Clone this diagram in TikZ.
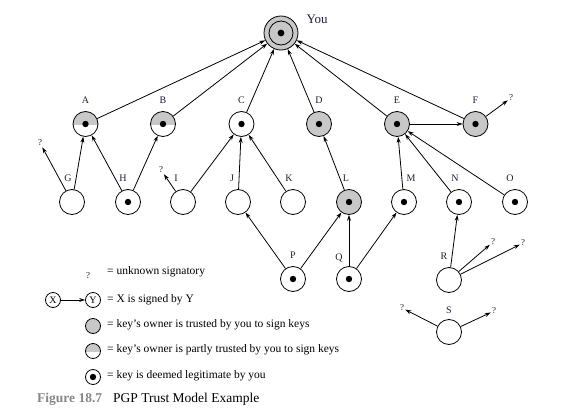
\documentclass[tikz,border=0pt]{standalone}
\usepackage{fontspec}
\setmainfont{Liberation Serif}
\usetikzlibrary{positioning,arrows.meta}
\definecolor{keygray}{RGB}{200,200,200}
\definecolor{capgray}{RGB}{135,135,135}
\definecolor{inkblue}{RGB}{30,30,60}

\begin{document}
\begin{tikzpicture}[
    x=1pt, y=-1pt,
    key/.style={draw, circle, line width=0.8pt, minimum size=25pt, inner sep=0pt},
    trusted/.style={key, fill=keygray},
    legit/.style={path picture={\fill[black] (path picture bounding box.center) circle (3.2pt);}},
    partly/.style={path picture={\fill[keygray] ([yshift=-1pt]path picture bounding box.west) rectangle (path picture bounding box.north east);}},
    partlylegit/.style={path picture={\fill[keygray] ([yshift=-1pt]path picture bounding box.west) rectangle (path picture bounding box.north east);
        \fill[black] (path picture bounding box.center) circle (3.2pt);}},
    you/.style={trusted, minimum size=34pt, path picture={\draw[line width=0.8pt] (path picture bounding box.center) circle (12pt);
        \fill[black] (path picture bounding box.center) circle (3.4pt);}},
    every label/.style={font=\fontsize{10}{12}\selectfont, text=inkblue},
    label distance=4pt,
    unknown/.style={inner sep=1pt, font=\fontsize{9}{10}\selectfont, text=inkblue},
    signs/.style={-{Stealth[length=6pt,width=4pt]}, line width=0.8pt},
    legend/.style={anchor=west, inner sep=0pt, font=\fontsize{11.5}{13}\selectfont},
    small/.style={minimum size=15pt}
]
\useasboundingbox (0,0) rectangle (563,415);

\node[you, label={[anchor=west, xshift=7pt, yshift=5pt, label distance=0pt, font=\fontsize{13}{15}\selectfont]30:You}] (You) at (281,33) {};

\node[key, partlylegit, label=above:A] (A) at (85.5,124) {};
\node[key, partlylegit, label=above:B] (B) at (163,124) {};
\node[key, legit, label=above:C] (C) at (241.5,124) {};
\node[trusted, legit, label=above:D] (D) at (319,124) {};
\node[trusted, legit, label=above:E] (E) at (397,124) {};
\node[trusted, legit, label=above:F] (F) at (475.5,124) {};

\node[key, label={[xshift=-4pt]above:G}] (G) at (72,202) {};
\node[key, legit, label={[xshift=-5pt]above:H}] (H) at (128,202) {};
\node[key, label={[xshift=-7pt]above:I}] (I) at (183,202) {};
\node[key, label={[xshift=-6pt]above:J}] (J) at (238,202) {};
\node[key, label={[xshift=-4pt]above:K}] (K) at (293,202) {};
\node[trusted, legit, label={[xshift=-3pt]above:L}] (L) at (349,202) {};
\node[key, legit, label={[xshift=7pt]above:M}] (M) at (404,202) {};
\node[key, legit, label={[xshift=-4pt]above:N}] (N) at (459,202) {};
\node[key, legit, label={[xshift=-5pt]above:O}] (O) at (515,202) {};

\node[key, legit, label=above:P] (P) at (293,279) {};
\node[key, legit, label={[xshift=-10pt, yshift=-4pt]above:Q}] (Q) at (349,279) {};
\node[key, label={[xshift=-5pt]above:R}] (R) at (449,280) {};
\node[key, label={[yshift=-2pt]above:S}] (S) at (449,332) {};

\node[unknown] (qG) at (40,143) {?};
\node[unknown] (qI) at (161,170) {?};
\node[unknown] (qF) at (511,98) {?};
\node[unknown] (qR1) at (493,242) {?};
\node[unknown] (qR2) at (523,243) {?};
\node[unknown] (qS1) at (402,308) {?};
\node[unknown] (qS2) at (494,311) {?};

\draw[signs] (A) -- (You);
\draw[signs] (B) -- (You);
\draw[signs] (C) -- (You);
\draw[signs] (D) -- (You);
\draw[signs] (E) -- (You);
\draw[signs] (F) -- (You);
\draw[signs] (E) -- (F);
\draw[signs] (F) -- (qF);
\draw[signs] (G) -- (qG);
\draw[signs] (G) -- (A);
\draw[signs] (H) -- (A);
\draw[signs] (H) -- (B);
\draw[signs] (I) -- (qI);
\draw[signs] (I) -- (C);
\draw[signs] (J) -- (C);
\draw[signs] (K) -- (C);
\draw[signs] (L) -- (D);
\draw[signs] (M) -- (E);
\draw[signs] (N) -- (E);
\draw[signs] (O) -- (E);
\draw[signs] (P) -- (J);
\draw[signs] (P) -- (L);
\draw[signs] (Q) -- (L);
\draw[signs] (Q) -- (M);
\draw[signs] (R) -- (N);
\draw[signs] (R) -- (qR1);
\draw[signs] (R) -- (qR2);
\draw[signs] (S) -- (qS1);
\draw[signs] (S) -- (qS2);

\node[unknown] (qKey) at (88,276) {?};
\node[legend] (tUnknown) at (107,272) {= unknown signatory};
\node[key, small, font=\fontsize{10}{12}\selectfont] (X) at (53,300) {X};
\node[key, small, font=\fontsize{10}{12}\selectfont] (Y) at (93,300) {Y};
\draw[signs] (X) -- (Y);
\node[legend] (tSigned) at (107,300) {= X is signed by Y};
\node[trusted, small] (kTrusted) at (93,326) {};
\node[legend] (tTrusted) at (107,325) {= key's owner is trusted by you to sign keys};
\node[key, small, partly] (kPartly) at (93,351) {};
\node[legend] (tPartly) at (107,350) {= key's owner is partly trusted by you to sign keys};
\node[key, small, legit] (kLegit) at (93,377) {};
\node[legend] (tLegit) at (107,376) {= key is deemed legitimate by you};

\node[anchor=west, inner sep=0pt, font=\fontsize{13.5}{15}\selectfont\bfseries, text=capgray] (figNo) at (37,399) {Figure 18.7};
\node[anchor=west, inner sep=0pt, font=\fontsize{13.5}{15}\selectfont] (figTitle) at (113,399) {PGP Trust Model Example};
\end{tikzpicture}
\end{document}
